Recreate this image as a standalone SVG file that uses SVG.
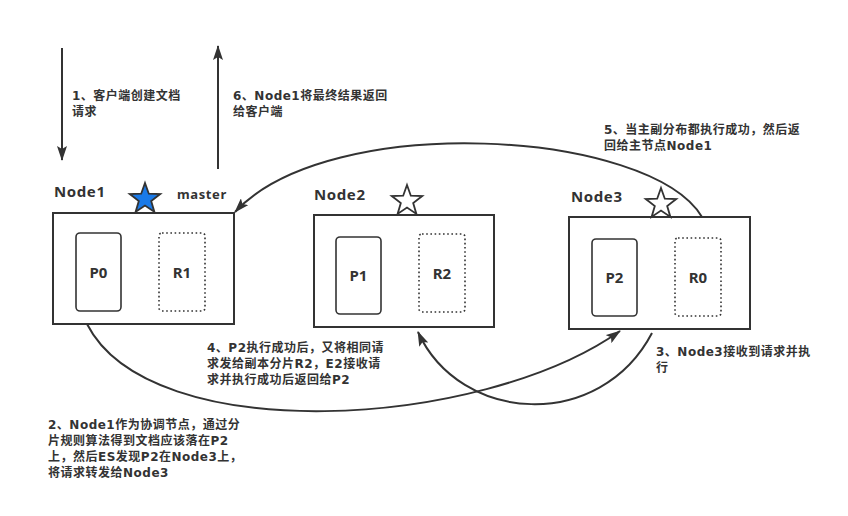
<svg xmlns="http://www.w3.org/2000/svg" xmlns:xlink="http://www.w3.org/1999/xlink" width="848" height="516" viewBox="0 0 848 516">
  <style>
    .box { fill: #fff; stroke: #333; stroke-width: 2; }
    .primary { fill: #fff; stroke: #333; stroke-width: 1.6; }
    .replica { fill: #fff; stroke: #333; stroke-width: 1.6; stroke-dasharray: 1.6 2.6; }
    .shard { font-family: "Noto Sans", "Noto Sans CJK SC", sans-serif; font-weight: bold; font-size: 15px; fill: #333; text-anchor: middle; }
    .title { font-family: "Noto Sans", "Noto Sans CJK SC", sans-serif; font-weight: bold; font-size: 15px; fill: #333; letter-spacing: 0.6px; }
    .note { font-family: "DejaVu Sans", "Noto Sans CJK SC", sans-serif; font-weight: bold; font-size: 12px; letter-spacing: 0.5px; fill: #333; }
    .link { fill: none; stroke: #333; stroke-width: 2; }
    .star { stroke: #333; stroke-width: 1.8; stroke-linejoin: miter; }
  </style>
  <defs>
    <marker id="arrow" viewBox="0 0 15 10" refX="14" refY="5" markerWidth="15" markerHeight="10" markerUnits="userSpaceOnUse" orient="auto">
      <path d="M0,0 L15,5 L0,10 L3,5 Z" fill="#333"/>
    </marker>
    <path id="starShape" d="M0,-16 L3.82,-5.26 L15.22,-4.94 L6.18,2.01 L9.4,12.94 L0,6.5 L-9.4,12.94 L-6.18,2.01 L-15.22,-4.94 L-3.82,-5.26 Z"/>
  </defs>

  <rect width="848" height="516" fill="#fff"/>

  <!-- Node1 (master) -->
  <g id="node1">
    <rect class="box" x="53" y="213" width="181" height="111"/>
    <rect class="primary" x="76" y="233" width="45" height="78" rx="4"/>
    <text class="shard" x="98.5" y="278">P0</text>
    <rect class="replica" x="159" y="233" width="46" height="78" rx="3"/>
    <text class="shard" x="182" y="278">R1</text>
    <text class="title" x="54" y="197">Node1</text>
    <use xlink:href="#starShape" class="star" x="145" y="199" fill="#1a7ae8"/>
    <text class="title" x="177" y="199" style="font-size:13px">master</text>
  </g>

  <!-- Node2 -->
  <g id="node2">
    <rect class="box" x="314" y="215" width="180" height="112"/>
    <rect class="primary" x="336" y="237" width="45" height="77" rx="4"/>
    <text class="shard" x="358.5" y="281">P1</text>
    <rect class="replica" x="419" y="234" width="46" height="78" rx="3"/>
    <text class="shard" x="442" y="279">R2</text>
    <text class="title" x="314" y="200">Node2</text>
    <use xlink:href="#starShape" class="star" x="407" y="201" fill="#fff"/>
  </g>

  <!-- Node3 -->
  <g id="node3">
    <rect class="box" x="569" y="217" width="181" height="112"/>
    <rect class="primary" x="592" y="239" width="45" height="77" rx="4"/>
    <text class="shard" x="614.5" y="283">P2</text>
    <rect class="replica" x="675" y="238" width="46" height="78" rx="3"/>
    <text class="shard" x="698" y="283">R0</text>
    <text class="title" x="571" y="202">Node3</text>
    <use xlink:href="#starShape" class="star" x="661" y="204" fill="#fff"/>
  </g>

  <!-- Connectors -->
  <g id="connectors">
    <line class="link" x1="62" y1="48" x2="62" y2="160" marker-end="url(#arrow)"/>
    <line class="link" x1="218" y1="169" x2="218" y2="46" marker-end="url(#arrow)"/>
    <path class="link" d="M87,324 C150,448 480,430 620,331" marker-end="url(#arrow)"/>
    <path class="link" d="M652,333 C600,432 460,424 418,332" marker-end="url(#arrow)"/>
    <path class="link" d="M702,217 C650,130 330,110 235,212" marker-end="url(#arrow)"/>
  </g>

  <!-- Step notes -->
  <g id="notes">
    <text class="note" x="72" y="100">1、客户端创建文档</text>
    <text class="note" x="72" y="116">请求</text>
    <text class="note" x="233" y="100">6、Node1将最终结果返回</text>
    <text class="note" x="233" y="116">给客户端</text>
    <text class="note" x="604" y="134">5、当主副分布都执行成功，然后返</text>
    <text class="note" x="604" y="150">回给主节点Node1</text>
    <text class="note" x="656" y="356">3、Node3接收到请求并执</text>
    <text class="note" x="656" y="372">行</text>
    <text class="note" x="207" y="352">4、P2执行成功后，又将相同请</text>
    <text class="note" x="207" y="368">求发给副本分片R2，E2接收请</text>
    <text class="note" x="207" y="384">求并执行成功后返回给P2</text>
    <text class="note" x="48" y="429">2、Node1作为协调节点，通过分</text>
    <text class="note" x="48" y="445">片规则算法得到文档应该落在P2</text>
    <text class="note" x="48" y="461">上，然后ES发现P2在Node3上，</text>
    <text class="note" x="48" y="477">将请求转发给Node3</text>
  </g>
</svg>
